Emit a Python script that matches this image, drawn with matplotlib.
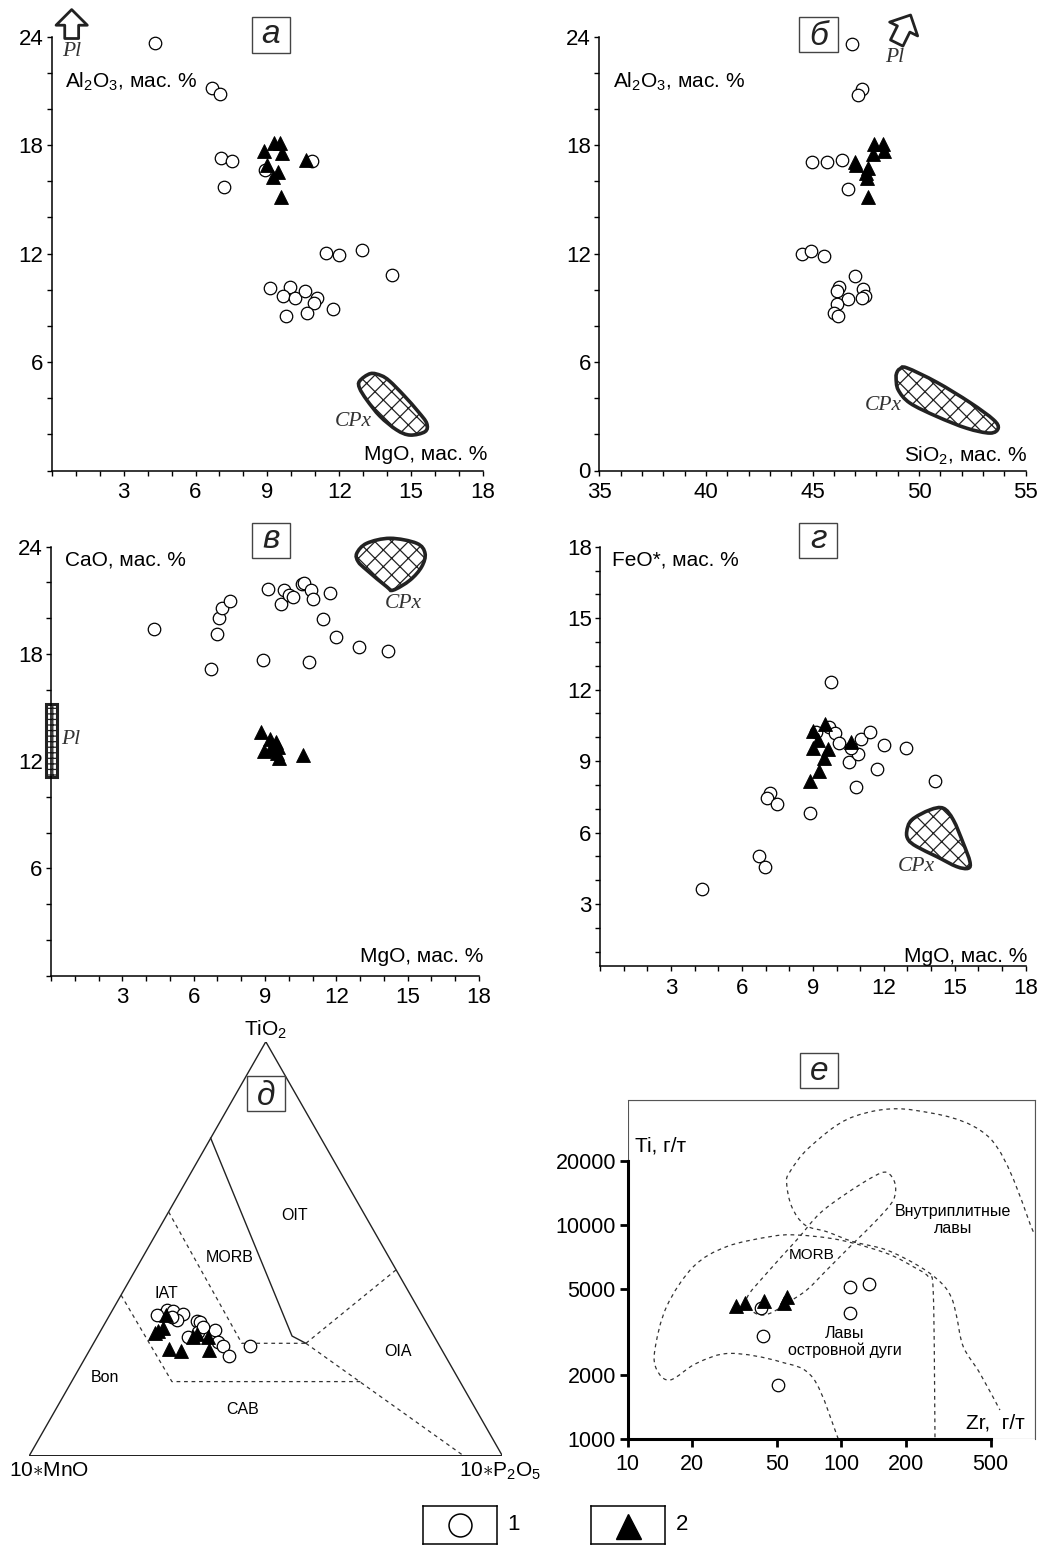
import numpy as np
import matplotlib
matplotlib.use("Agg")
import matplotlib.pyplot as plt
from matplotlib.patches import Rectangle, PathPatch
from matplotlib.path import Path
from matplotlib.ticker import FixedLocator, MultipleLocator

plt.rcParams['font.family'] = ['Liberation Sans', 'DejaVu Sans']
plt.rcParams['mathtext.fontset'] = 'custom'
plt.rcParams['mathtext.rm'] = 'Liberation Sans'
plt.rcParams['mathtext.it'] = 'Liberation Sans:italic'
plt.rcParams['hatch.linewidth'] = 0.9

# ---- а: MgO - Al2O3 ----
mgo_a_c = [4.32, 6.70, 7.02, 7.07, 7.52, 7.20, 8.90, 10.88, 11.44, 11.99, 12.94,
           14.20, 9.11, 9.95, 9.67, 10.15, 10.56, 11.06, 10.95, 11.74, 9.79, 10.64]
al_a_c = [23.66, 21.17, 20.82, 17.27, 17.12, 15.66, 16.60, 17.13, 12.05, 11.92, 12.20,
          10.80, 10.08, 10.17, 9.67, 9.56, 9.95, 9.56, 9.25, 8.93, 8.56, 8.69]
mgo_a_t = [8.86, 9.28, 9.53, 9.62, 10.60, 9.00, 9.43, 9.25, 9.56]
al_a_t = [17.69, 18.13, 18.13, 17.54, 17.17, 16.90, 16.53, 16.22, 15.11]

# ---- б: SiO2 - Al2O3 ----
si_b_c = [46.87, 47.34, 47.15, 44.99, 45.68, 46.40, 46.67, 44.51, 44.91, 45.55,
          46.99, 46.26, 46.15, 47.38, 47.45, 47.31, 46.67, 46.16, 46.02, 46.21]
al_b_c = [23.60, 21.09, 20.78, 17.06, 17.06, 17.18, 15.60, 11.99, 12.15, 11.87,
          10.77, 10.14, 9.92, 10.05, 9.68, 9.54, 9.48, 9.22, 8.74, 8.57]
si_b_t = [47.88, 48.31, 47.82, 48.37, 46.99, 47.03, 47.59, 47.49, 47.54, 47.60]
al_b_t = [18.07, 18.07, 17.52, 17.68, 17.06, 16.90, 16.73, 16.45, 16.17, 15.12]

# ---- в: MgO - CaO ----
mgo_v_c = [4.32, 6.72, 6.99, 7.08, 7.20, 7.51, 8.92, 9.11, 9.67, 9.79, 10.00,
           10.18, 10.54, 10.65, 10.95, 11.03, 10.86, 11.43, 11.73, 11.98, 12.94, 14.17]
cao_v_c = [19.37, 17.17, 19.13, 20.00, 20.58, 20.97, 17.64, 21.65, 20.79, 21.59, 21.29,
           21.20, 21.93, 21.98, 21.57, 21.09, 17.56, 19.97, 21.39, 18.93, 18.38, 18.16]
mgo_v_t = [8.83, 9.22, 9.45, 9.56, 8.97, 9.21, 9.49, 9.60, 10.60]
cao_v_t = [13.61, 13.22, 13.08, 12.80, 12.56, 12.62, 12.43, 12.15, 12.34]

# ---- г: MgO - FeO* ----
mgo_g_c = [4.31, 6.71, 6.99, 7.20, 7.06, 7.50, 8.89, 9.78, 9.68, 9.94, 10.12,
           9.15, 11.02, 11.42, 11.99, 12.94, 14.16, 10.52, 10.92, 10.62, 11.73, 10.83]
feo_g_c = [3.64, 5.02, 4.57, 7.65, 7.46, 7.19, 6.81, 12.31, 10.44, 10.17, 9.77,
           10.20, 9.93, 10.21, 9.68, 9.55, 8.15, 8.95, 9.30, 9.54, 8.66, 7.90]
mgo_g_t = [8.87, 9.26, 9.47, 9.65, 8.99, 9.20, 9.02, 9.52, 10.60]
feo_g_t = [8.17, 8.59, 9.12, 9.50, 9.54, 9.89, 10.26, 10.56, 9.79]

# clinopyroxene fields (x, y of each panel)
cpx_a = ([12.85, 13.30, 13.75, 14.10, 14.70, 15.30, 15.65, 15.58, 14.96, 14.40, 13.70, 13.15, 12.85],
         [4.95, 5.36, 5.25, 4.95, 4.15, 3.25, 2.61, 2.15, 1.96, 2.24, 3.00, 3.90, 4.55])
cpx_b = ([48.97, 49.10, 49.42, 50.83, 52.39, 53.48, 53.71, 53.33, 52.23, 50.83, 49.57, 49.02, 48.92],
         [5.45, 5.62, 5.68, 4.88, 3.76, 2.82, 2.34, 2.07, 2.34, 2.99, 3.73, 4.46, 5.15])
cpx_v = ([12.86, 13.28, 14.26, 15.38, 15.73, 15.59, 15.10, 14.39, 14.12, 13.28, 12.92],
         [23.63, 24.19, 24.47, 24.19, 23.63, 22.88, 22.13, 21.57, 21.76, 22.69, 23.16])
cpx_g = ([12.97, 13.18, 13.95, 14.52, 14.94, 15.36, 15.64, 15.57, 15.08, 14.24, 13.39, 13.04],
         [6.04, 6.53, 6.95, 7.02, 6.53, 5.55, 4.78, 4.50, 4.57, 4.99, 5.41, 5.69])
pl_cao = (11.1, 15.2)   # plagioclase CaO range, panel в

# ---- д: TiO2 - 10*MnO - 10*P2O5 ----
tio2_c = [34.0, 35.2, 35.0, 34.2, 32.8, 33.4, 32.6, 32.4, 28.7, 30.0, 30.4, 27.5, 26.6, 24.1, 26.5, 34.0, 31.1]
mno_c = [55.0, 53.2, 52.2, 50.3, 52.4, 53.1, 48.2, 47.7, 52.1, 49.3, 45.5, 46.3, 45.8, 45.8, 40.0, 56.1, 47.7]
p2o5_c = [11.0, 11.6, 12.8, 15.5, 14.8, 13.5, 19.2, 19.9, 19.2, 20.7, 24.1, 26.2, 27.6, 30.1, 33.5, 9.9, 21.2]
tio2_t = [34.0, 29.6, 30.8, 30.1, 25.7, 25.3, 28.7, 29.3, 28.6, 25.5]
mno_t = [54.0, 58.6, 56.3, 57.7, 57.6, 55.3, 51.0, 49.9, 47.9, 49.2]
p2o5_t = [12.0, 11.8, 12.9, 12.2, 16.7, 19.4, 20.3, 20.8, 23.5, 25.3]

# field boundaries (TiO2, MnO, P2O5)
oit_bound = [(76.7, 23.3, 0.0), (28.9, 30.0, 41.1), (27.15, 27.95, 44.9)]
oia_bound = [(27.15, 27.95, 44.9), (44.9, 0.0, 55.1)]
cab_bound = [(27.15, 27.95, 44.9), (0.0, 8.2, 91.8)]
cab_top = [(38.8, 61.2, 0.0), (17.9, 60.9, 21.2), (17.9, 20.8, 61.3)]
morb_bound = [(58.9, 41.1, 0.0), (27.15, 41.5, 31.35), (27.15, 27.95, 44.9)]

# ---- е: Zr - Ti ----
zr_c = [42.0, 43.1, 50.7, 109.5, 135.2, 110.2]
ti_c = [4080, 3040, 1790, 5150, 5300, 3870]
zr_t = [32.1, 35.4, 43.6, 54.1, 55.5]
ti_t = [4200, 4310, 4410, 4310, 4620]

arc_zr = [96.8, 73.9, 51.6, 30.1, 21.0, 15.8, 13.7, 13.4, 15.2, 20.3, 29.0, 46.4, 61.8,
          98.6, 163.1, 217.3, 255.4, 269.6, 274.6]
arc_ti = [1000, 1921, 2298, 2513, 2258, 1887, 2101, 2605, 4151, 6388, 7920, 8822, 8983,
          8511, 7371, 6383, 5736, 4797, 1000]
wpl_zr = [792, 497, 217.3, 113.8, 71.4, 57.5, 55.5, 58.6, 67.6, 85.5, 113.8, 163.1, 233.6,
          295, 328.8, 346.9, 372.5, 445.7, 553]
wpl_ti = [9307, 25430, 34460, 32060, 23220, 17750, 15660, 12180, 10000, 9307, 8356, 7641,
          6383, 5341, 4545, 3729, 2700, 2028, 1366]
morb_zr = [36.1, 44.7, 61.8, 79.4, 105.9, 141.2, 163.1, 178.3, 175.2, 146.5, 113.8, 85.5,
           68.9, 55.5, 48.1, 43.1, 38.7]
morb_ti = [4545, 5946, 8511, 11340, 14060, 16820, 17620, 15660, 13090, 10550, 8214, 6163,
           4970, 4306, 3935, 3797, 3935]

W, H = 1050, 1546
fig = plt.figure(figsize=(W / 100, H / 100), dpi=100)


def rect_px(x0, y0, x1, y1):
    return [x0 / W, 1 - y1 / H, (x1 - x0) / W, (y1 - y0) / H]


def ftext(px, py, s, **kw):
    fig.text(px / W, 1 - py / H, s, **kw)


def spline_path(x, y, closed=False, log=False):
    # Catmull-Rom curve through the outline points, as cubic Bezier segments
    p = np.column_stack([x, y]).astype(float)
    if log:
        p = np.log10(p)
    n = len(p)
    if closed:
        pt = lambda i: p[i % n]
        segs = range(n)
    else:
        pt = lambda i: p[min(max(i, 0), n - 1)]
        segs = range(n - 1)
    verts, codes = [p[0]], [Path.MOVETO]
    for i in segs:
        p0, p1, p2, p3 = pt(i - 1), pt(i), pt(i + 1), pt(i + 2)
        verts += [p1 + (p2 - p0) / 6, p2 - (p3 - p1) / 6, p2]
        codes += [Path.CURVE4] * 3
    if closed:
        verts.append(p[0])
        codes.append(Path.CLOSEPOLY)
    verts = np.array(verts)
    if log:
        verts = 10 ** verts
    return Path(verts, codes)


def oxide_axes(rect, xlim, ylim, xmaj, xmin, ymaj, ymin):
    ax = fig.add_axes(rect)
    ax.set_xlim(xlim)
    ax.set_ylim(ylim)
    ax.patch.set_visible(False)
    for s in ('top', 'right'):
        ax.spines[s].set_visible(False)
    for s in ('left', 'bottom'):
        ax.spines[s].set_linewidth(1.1)
    ax.xaxis.set_major_locator(FixedLocator(xmaj))
    ax.xaxis.set_minor_locator(MultipleLocator(xmin))
    ax.yaxis.set_major_locator(FixedLocator(ymaj))
    ax.yaxis.set_minor_locator(MultipleLocator(ymin))
    ax.tick_params(which='both', direction='out', length=3.5, width=1, labelsize=16)
    ax.tick_params(axis='x', which='major', pad=5)
    ax.tick_params(axis='y', which='major', pad=2.5)
    return ax


def samples(ax, x1, y1, x2, y2):
    ax.plot(x1, y1, 'o', ms=9, mfc='white', mec='black', mew=0.9, ls='none',
            clip_on=False, zorder=3)
    ax.plot(x2, y2, '^', ms=10, mfc='black', mec='black', mew=0.6, ls='none',
            clip_on=False, zorder=4)


def cpx(ax, field):
    ax.add_patch(PathPatch(spline_path(*field, closed=True), fc='white', ec='#222222',
                           lw=2.6, hatch='xx', clip_on=False, zorder=2))


def pl_arrow(ax, tip, tail):
    ax.annotate('', xy=tip, xytext=tail, annotation_clip=False,
                arrowprops=dict(arrowstyle='simple,head_length=0.9,head_width=1.8,tail_width=0.8',
                                fc='white', ec='#222222', lw=2.0, shrinkA=0, shrinkB=0,
                                mutation_scale=12.5))


serif_it = dict(family='Liberation Serif', style='italic', fontsize=15.5, color='#333333')

# а
ax_a = oxide_axes(rect_px(51.8, 36.7, 483.0, 470.5), (0, 18), (0, 24),
                  [3, 6, 9, 12, 15, 18], 1, [6, 12, 18, 24], 2)
cpx(ax_a, cpx_a)
samples(ax_a, mgo_a_c, al_a_c, mgo_a_t, al_a_t)
pl_arrow(ax_a, (0.83, 25.5), (0.83, 23.9))
ftext(71.7, 52, 'Pl', ha='center', va='center', **serif_it)
ftext(353.3, 421.7, 'CPx', ha='center', va='center', **serif_it)
ftext(65, 81.7, 'Al$_2$O$_3$, мас. %', ha='left', va='center', fontsize=15)
ftext(487, 455, 'MgO, мас. %', ha='right', va='center', fontsize=15)

# б
ax_b = oxide_axes(rect_px(599.3, 36.7, 1025.7, 470.5), (35, 55), (0, 24),
                  [35, 40, 45, 50, 55], 1, [0, 6, 12, 18, 24], 2)
cpx(ax_b, cpx_b)
samples(ax_b, si_b_c, al_b_c, si_b_t, al_b_t)
pl_arrow(ax_b, (49.6, 25.2), (48.95, 23.65))
ftext(895, 57, 'Pl', ha='center', va='center', **serif_it)
ftext(883.3, 406, 'CPx', ha='center', va='center', **serif_it)
ftext(613.3, 81.7, 'Al$_2$O$_3$, мас. %', ha='left', va='center', fontsize=15)
ftext(1027, 456, 'SiO$_2$, мас. %', ha='right', va='center', fontsize=15)

# в
ax_v = oxide_axes(rect_px(51.0, 546.7, 479.0, 975.5), (0, 18), (0, 24),
                  [3, 6, 9, 12, 15, 18], 1, [6, 12, 18, 24], 2)
cpx(ax_v, cpx_v)
ax_v.add_patch(Rectangle((-0.21, pl_cao[0]), 0.45, pl_cao[1] - pl_cao[0], fc='white',
                         ec='#222222', lw=2.2, hatch='+++', clip_on=False, zorder=2))
samples(ax_v, mgo_v_c, cao_v_c, mgo_v_t, cao_v_t)
ftext(71, 740, 'Pl', ha='center', va='center', **serif_it)
ftext(403.3, 603.3, 'CPx', ha='center', va='center', **serif_it)
ftext(65, 560, 'CaO, мас. %', ha='left', va='center', fontsize=15)
ftext(483, 956.7, 'MgO, мас. %', ha='right', va='center', fontsize=15)

# г
ax_g = oxide_axes(rect_px(600.0, 546.7, 1025.7, 965.7), (0, 18), (0.41, 18),
                  [3, 6, 9, 12, 15, 18], 1, [3, 6, 9, 12, 15, 18], 1)
cpx(ax_g, cpx_g)
samples(ax_g, mgo_g_c, feo_g_c, mgo_g_t, feo_g_t)
ftext(916.7, 866.7, 'CPx', ha='center', va='center', **serif_it)
ftext(611.7, 560, 'FeO*, мас. %', ha='left', va='center', fontsize=15)
ftext(1027, 956.7, 'MgO, мас. %', ha='right', va='center', fontsize=15)

# д: ternary diagram
ax_d = fig.add_axes(rect_px(29.3, 1041.7, 502.3, 1455.7))
ax_d.set_xlim(0, 1)
ax_d.set_ylim(0, np.sqrt(3) / 2)
ax_d.axis('off')


def tern(pts):
    t, m, p = np.asarray(pts, dtype=float).T
    s = t + m + p
    return (p + t / 2) / s, t * np.sqrt(3) / 2 / s


ax_d.plot(*tern([(100, 0, 0), (0, 100, 0), (0, 0, 100), (100, 0, 0)]), color='#222222', lw=1.0)
ax_d.plot(*tern(oit_bound), color='#222222', lw=1.0)
for bound in (oia_bound, cab_bound, cab_top, morb_bound):
    ax_d.plot(*tern(bound), color='#333333', lw=0.9, ls=(0, (3, 3)))
xc, yc = tern(list(zip(tio2_c, mno_c, p2o5_c)))
xt, yt = tern(list(zip(tio2_t, mno_t, p2o5_t)))
samples(ax_d, xc, yc, xt, yt)

ftext(266, 1030, 'TiO$_2$', ha='center', va='center', fontsize=15)
ftext(49, 1471, '10$\\ast$MnO', ha='center', va='center', fontsize=15)
ftext(500, 1471, '10$\\ast$P$_2$O$_5$', ha='center', va='center', fontsize=15)
for lab, px, py in [('OIT', 295, 1216), ('MORB', 230, 1258), ('IAT', 166, 1293),
                    ('Bon', 105, 1377), ('CAB', 243, 1409), ('OIA', 398, 1351)]:
    ftext(px, py, lab, ha='center', va='center', fontsize=11.5)

# е: Zr - Ti
ax_e = fig.add_axes(rect_px(627.7, 1100, 1035, 1439))
ax_e.set_xscale('log')
ax_e.set_yscale('log')
ax_e.set_xlim(10, 807)
ax_e.set_ylim(1000, 38400)
for s in ('top', 'right'):
    ax_e.spines[s].set_linewidth(0.8)
    ax_e.spines[s].set_color('#555555')
ax_e.spines['left'].set_linewidth(2.2)
ax_e.spines['bottom'].set_linewidth(2.2)
ax_e.spines['left'].set_bounds(1000, 20000)
ax_e.spines['bottom'].set_bounds(10, 500)
ax_e.add_patch(Rectangle((0, 0), 1, 1, transform=ax_e.transAxes, fill=False,
                         ec='#555555', lw=0.8, zorder=0))
ax_e.xaxis.set_major_locator(FixedLocator([10, 20, 50, 100, 200, 500]))
ax_e.xaxis.set_minor_locator(FixedLocator([]))
ax_e.yaxis.set_major_locator(FixedLocator([1000, 2000, 5000, 10000, 20000]))
ax_e.yaxis.set_minor_locator(FixedLocator([]))
ax_e.set_xticklabels(['10', '20', '50', '100', '200', '500'])
ax_e.set_yticklabels(['1000', '2000', '5000', '10000', '20000'])
ax_e.tick_params(direction='out', length=6, width=2, labelsize=15.5)
ax_e.tick_params(axis='x', pad=5)
ax_e.tick_params(axis='y', pad=2.5)
for zr, ti, closed in [(arc_zr, arc_ti, False), (wpl_zr, wpl_ti, False),
                       (morb_zr, morb_ti, True)]:
    ax_e.add_patch(PathPatch(spline_path(zr, ti, closed=closed, log=True), fill=False,
                             ec='#333333', lw=0.9, ls=(0, (3, 3))))
samples(ax_e, zr_c, ti_c, zr_t, ti_t)
ftext(635, 1146, 'Ti, г/т', ha='left', va='center', fontsize=15)
ftext(1025, 1423.3, 'Zr,  г/т', ha='right', va='center', fontsize=15)
ftext(953.3, 1220, 'Внутриплитные\nлавы', ha='center', va='center', fontsize=11.5,
      linespacing=1.15)
ftext(811.7, 1255, 'MORB', ha='center', va='center', fontsize=11)
ftext(845, 1341.7, 'Лавы\nостровной дуги', ha='center', va='center', fontsize=11.5,
      linespacing=1.15)

# panel letters
for lab, x0, y0, x1, y1, base in [('а', 251.7, 16.7, 290.0, 52.7, 43.3),
                                  ('б', 799.3, 17.3, 838.3, 52.3, 45.0),
                                  ('в', 251.7, 522.7, 290.0, 558.3, 548.3),
                                  ('г', 799.3, 522.7, 837.3, 558.3, 548.3),
                                  ('д', 247.3, 1076.0, 285.3, 1111.0, 1105.0),
                                  ('е', 800.0, 1053.3, 837.7, 1088.3, 1080.0)]:
    fig.add_artist(Rectangle((x0 / W, 1 - y1 / H), (x1 - x0) / W, (y1 - y0) / H,
                             transform=fig.transFigure, fill=True, fc='white',
                             ec='#444444', lw=1.0))
    ftext((x0 + x1) / 2, base, lab, ha='center', va='baseline', fontsize=24,
          style='italic', color='#222222')

# legend
for num, marker, x0, x1 in [('1', 'o', 422.7, 496.7), ('2', '^', 590.7, 665.0)]:
    lax = fig.add_axes(rect_px(x0, 1505.7, x1, 1544.3))
    lax.set_xlim(0, 1)
    lax.set_ylim(0, 1)
    lax.set_xticks([])
    lax.set_yticks([])
    for s in lax.spines.values():
        s.set_linewidth(1.1)
    if marker == 'o':
        lax.plot([0.5], [0.5], 'o', ms=16.5, mfc='white', mec='black', mew=1.1)
    else:
        lax.plot([0.5], [0.47], '^', ms=18, mfc='black', mec='black')
    ftext(x1 + 17, 1525, num, ha='center', va='center', fontsize=16)

fig.savefig('out.png', dpi=100)
